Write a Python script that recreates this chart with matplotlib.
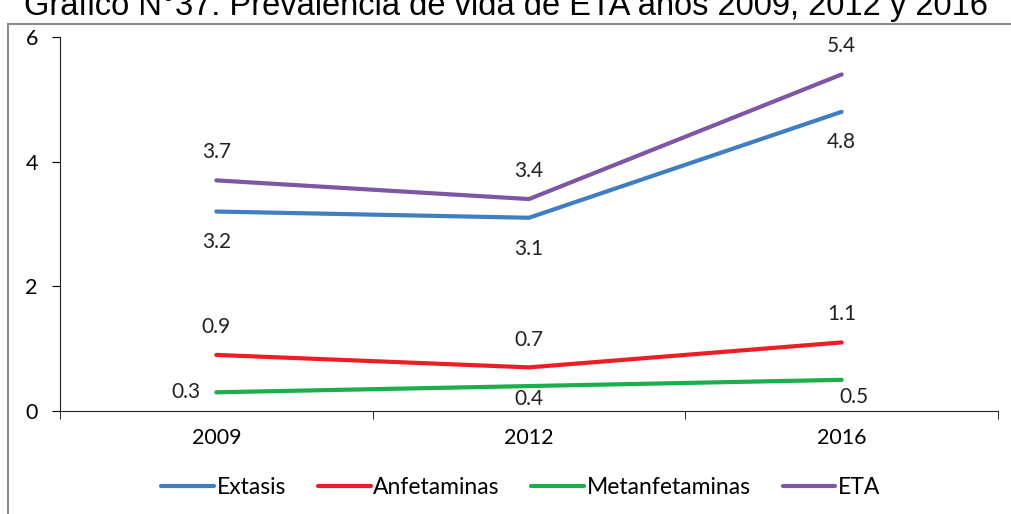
import matplotlib.pyplot as plt
from matplotlib.patches import Rectangle

plt.rcParams['font.family'] = ['Lato', 'DejaVu Sans']

years = ['2009', '2012', '2016']
extasis = [3.2, 3.1, 4.8]
anfetaminas = [0.9, 0.7, 1.1]
metanfetaminas = [0.3, 0.4, 0.5]
eta = [3.7, 3.4, 5.4]

series = [
    ('Extasis', extasis, '#3F7FC1', [(0, -30), (0, -31), (0, -30)]),
    ('Anfetaminas', anfetaminas, '#EE1C25', [(0, 28), (0, 27), (0, 28)]),
    ('Metanfetaminas', metanfetaminas, '#1BAE4B', [(-30, 0), (0, -13), (12, -17)]),
    ('ETA', eta, '#7D56A4', [(0, 28), (0, 28), (0, 28)]),
]

fig = plt.figure(figsize=(10.11, 5.14), dpi=100)
ax = fig.add_axes([60 / 1011, 1 - 411 / 514, 938 / 1011, 374 / 514])

x = list(range(len(years)))
for name, vals, color, offs in series:
    ax.plot(x, vals, color=color, lw=3, solid_capstyle='round', label=name)
    for xi, v, (dx, dy) in zip(x, vals, offs):
        ax.annotate(f'{v:.1f}', (xi, v), xytext=(dx, dy), textcoords='offset pixels',
                    ha='center', va='center', fontsize=15, color='#222222')

ax.set_xlim(-0.5, 2.5)
ax.set_ylim(0, 6)
ax.set_yticks([0, 2, 4, 6])
ax.set_xticks(x)
ax.set_xticklabels(years)
ax.set_xticks([-0.5, 0.5, 1.5, 2.5], minor=True)
ax.tick_params(axis='x', which='major', length=0, pad=12, labelsize=15.5)
ax.tick_params(axis='x', which='minor', length=6, direction='out')
ax.tick_params(axis='y', length=6, pad=10, labelsize=15.5)
for s in ['top', 'right']:
    ax.spines[s].set_visible(False)
ax.spines['left'].set_color('#222222')
ax.spines['bottom'].set_color('#222222')

fig.legend(loc='center', bbox_to_anchor=(0.515, 1 - 488 / 514), ncol=4, frameon=False,
           fontsize=16.5, handlelength=2.3, handletextpad=0.1, columnspacing=1.4)

# outer frame, open to the right and bottom
fig.patches.append(Rectangle((8 / 1011, -0.1), 1.2, 1 - 24 / 514 + 0.1,
                             transform=fig.transFigure, fill=False,
                             edgecolor='#8C8C8C', lw=1.5))

fig.text(0.5, 1 - 15 / 514, 'Gráfico N°37: Prevalencia de vida de ETA años 2009, 2012 y 2016',
         ha='center', va='baseline', fontsize=23.5, family='Liberation Sans')

fig.savefig('out.png', dpi=100)
